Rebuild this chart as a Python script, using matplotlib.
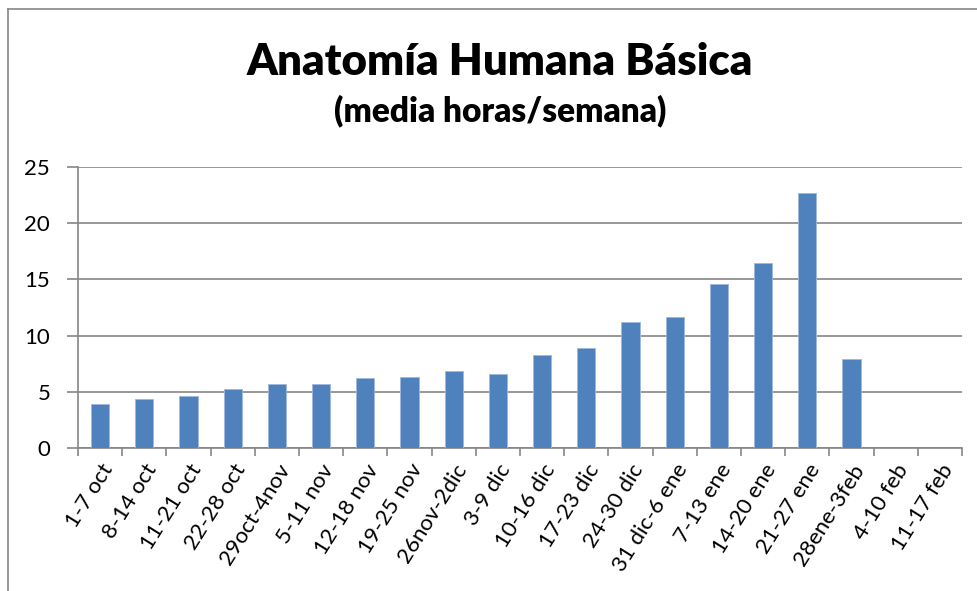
import matplotlib
matplotlib.use("Agg")
import matplotlib.pyplot as plt
from matplotlib.lines import Line2D
import numpy as np

categories = ["1-7 oct", "8-14 oct", "11-21 oct", "22-28 oct", "29oct-4nov",
              "5-11 nov", "12-18 nov", "19-25 nov", "26nov-2dic", "3-9 dic",
              "10-16 dic", "17-23 dic", "24-30 dic", "31 dic-6 ene", "7-13 ene",
              "14-20 ene", "21-27 ene", "28ene-3feb", "4-10 feb", "11-17 feb"]
values = [3.95, 4.34, 4.63, 5.26, 5.73, 5.73, 6.21, 6.36, 6.83, 6.62,
          8.25, 8.88, 11.25, 11.64, 14.58, 16.42, 22.68, 7.93, 0, 0]
yticks = [0, 5, 10, 15, 20, 25]

title = "Anatomía Humana Básica"
subtitle = "(media horas/semana)"

plt.rcParams['font.family'] = ['Lato', 'DejaVu Sans']

W, H = 978, 591
fig = plt.figure(figsize=(W / 100, H / 100), dpi=100)
ax = fig.add_axes([78 / W, 1 - 448 / H, (962 - 78) / W, (448 - 167) / H])

gray = "#868686"
x = np.arange(len(categories))
ax.bar(x, values, width=0.41, color="#4F81BD", edgecolor="#9DB9DC", linewidth=0.6, zorder=3)

ax.set_xlim(-0.5, len(categories) - 0.5)
ax.set_ylim(0, 25)
ax.set_yticks(yticks)
ax.set_yticklabels([str(v) for v in yticks], fontsize=16)
ax.yaxis.grid(True, color=gray, linewidth=1.2, zorder=0)
ax.set_axisbelow(True)

ax.set_xticks(np.arange(len(categories) + 1) - 0.5, minor=False)
ax.set_xticklabels([])
ax.set_xticks(x, minor=True)
ax.set_xticklabels(categories, minor=True, rotation=58, ha="right",
                   rotation_mode="anchor", fontsize=16)
ax.tick_params(axis="x", which="minor", length=0, pad=9)
ax.tick_params(axis="x", which="major", length=6, color=gray, width=1.2)
ax.tick_params(axis="y", length=8, color=gray, width=1.2, pad=12)

for s in ["top", "right"]:
    ax.spines[s].set_visible(False)
for s in ["left", "bottom"]:
    ax.spines[s].set_color(gray)
    ax.spines[s].set_linewidth(1.2)

fig.text(500 / W, 1 - 62 / H, title, ha="center", va="center",
         fontsize=31.5, fontweight="heavy")
fig.text(500 / W, 1 - 111 / H, subtitle, ha="center", va="center",
         fontsize=24, fontweight="heavy")

# chart border (top and left visible)
fig.add_artist(Line2D([8 / W, 1.0], [1 - 9 / H, 1 - 9 / H], color=gray, linewidth=1.2))
fig.add_artist(Line2D([8 / W, 8 / W], [1 - 9 / H, 0.0], color=gray, linewidth=1.2))

fig.savefig("out.png", dpi=100)
